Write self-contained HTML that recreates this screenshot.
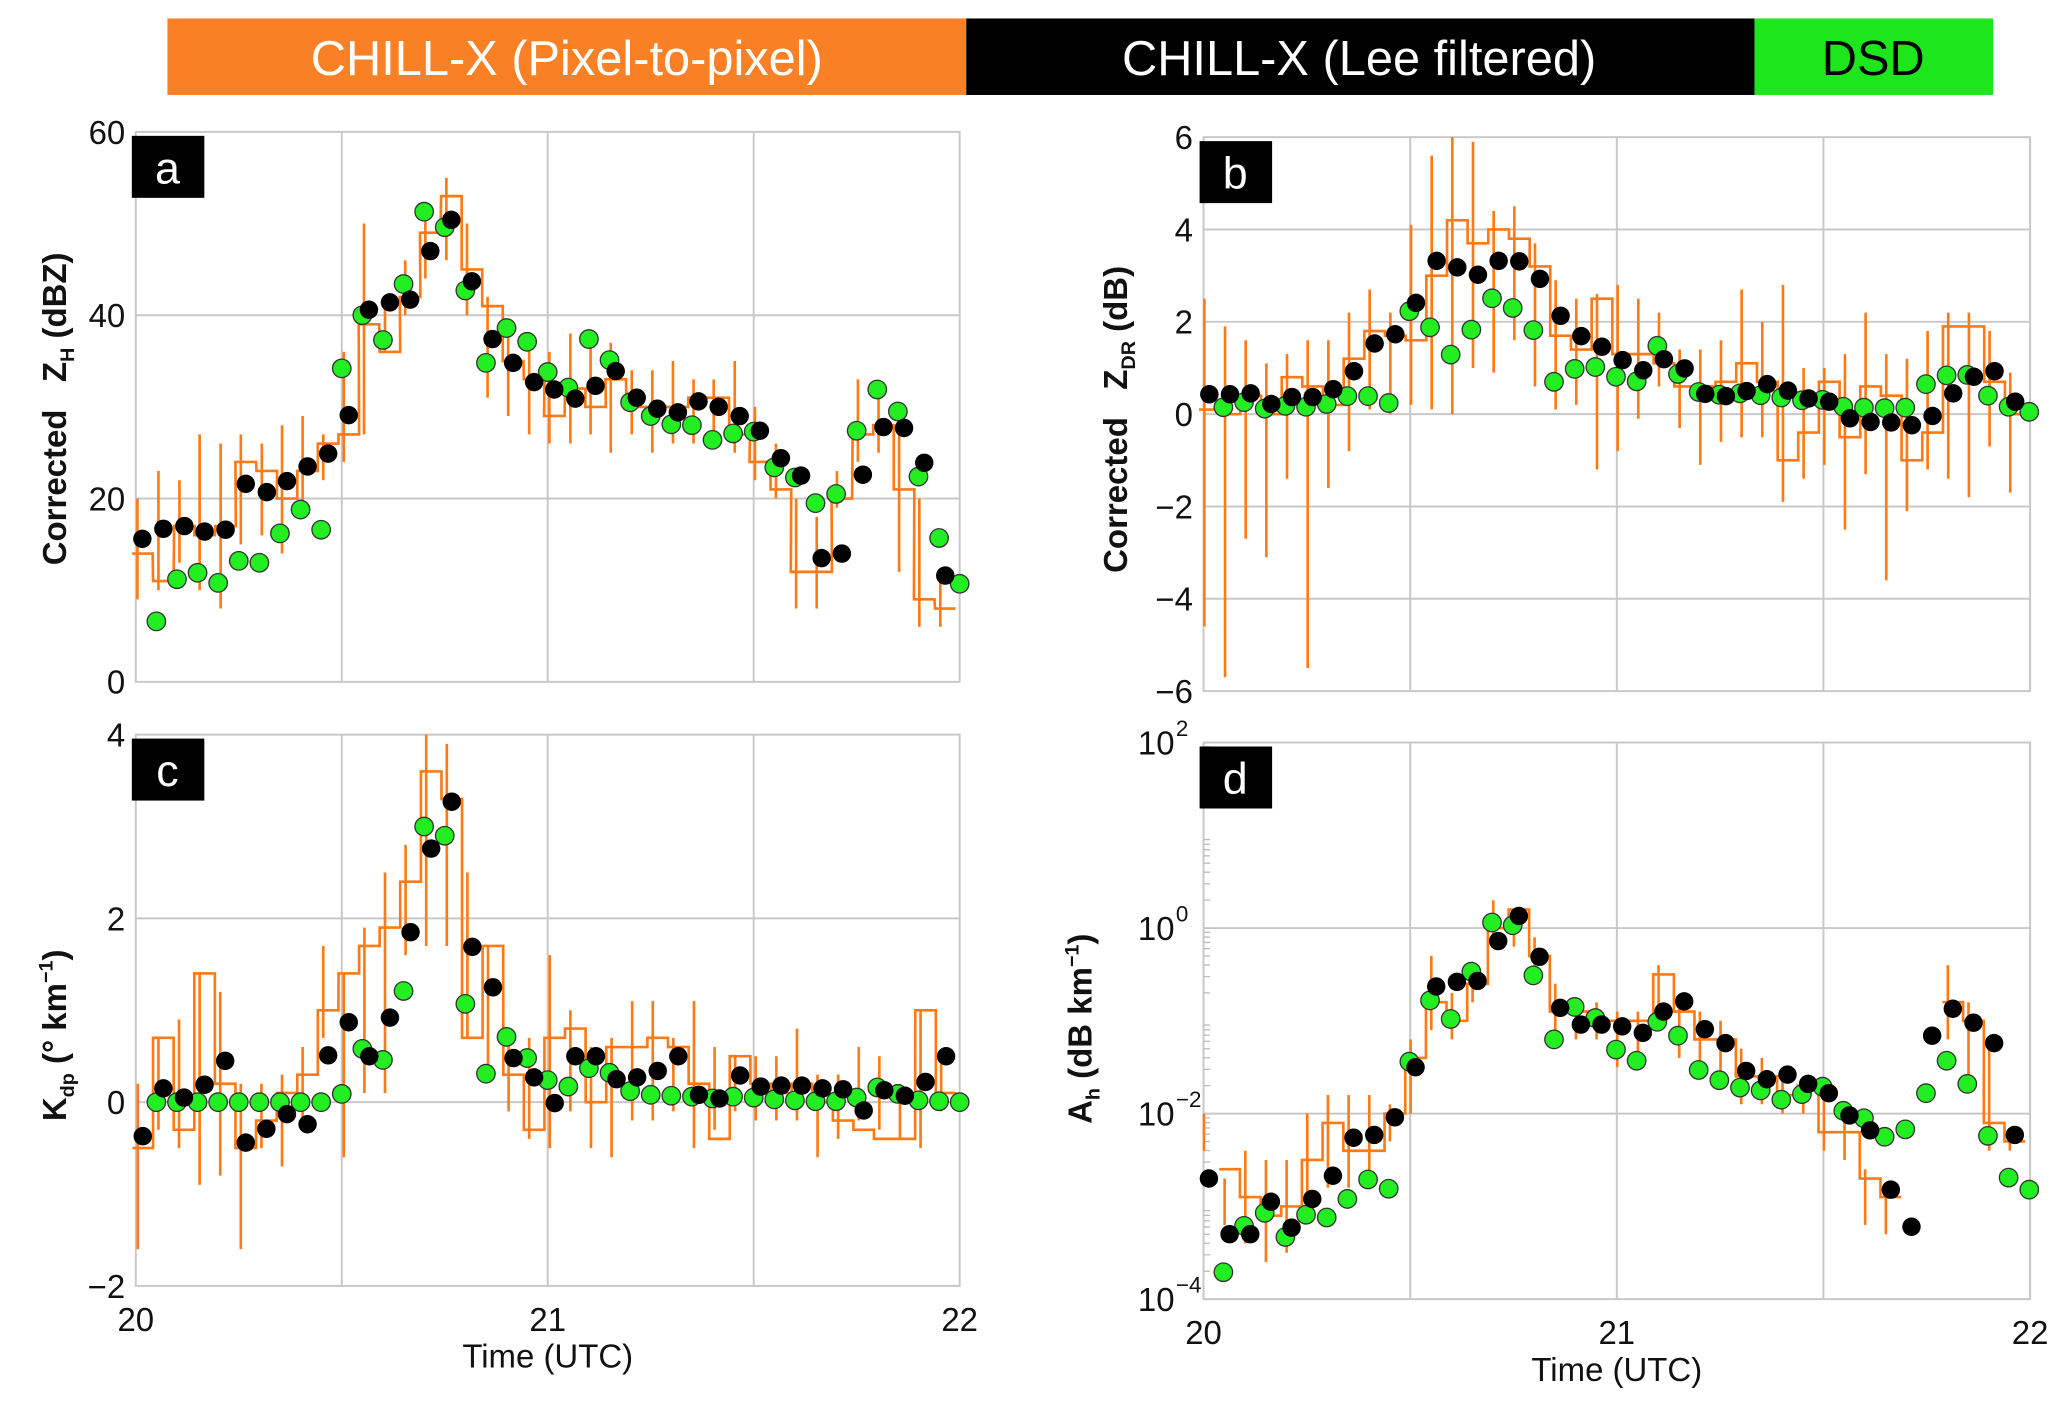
<!DOCTYPE html>
<html><head><meta charset="utf-8"><style>
html,body{margin:0;padding:0;background:#fff}
svg{display:block}
text{font-family:"Liberation Sans",sans-serif}
</style></head><body>
<svg id="chart" width="2067" height="1402" viewBox="0 0 1568 1063" preserveAspectRatio="none" xmlns="http://www.w3.org/2000/svg">
<g>
<rect x="127" y="14" width="606" height="58" fill="#f98024"/>
<rect x="733" y="14" width="598" height="58" fill="#000"/>
<rect x="1331" y="14" width="181" height="58" fill="#1de61d"/>
<text x="430" y="57" font-size="37" fill="#fff" text-anchor="middle">CHILL-X (Pixel-to-pixel)</text>
<text x="1031" y="57" font-size="37" fill="#fff" text-anchor="middle">CHILL-X (Lee filtered)</text>
<text x="1421" y="57" font-size="37" fill="#000" text-anchor="middle">DSD</text>
</g>
</svg>
<script>
// ---- Panel a data ----
const aBlackT=[20.016,20.067,20.118,20.167,20.218,20.267,20.318,20.367,20.417,20.467,20.517,20.566,20.617,20.666,20.715,20.766,20.816,20.866,20.916,20.967,21.016,21.067,21.116,21.165,21.216,21.266,21.316,21.366,21.415,21.466,21.515,21.566,21.615,21.665,21.714,21.765,21.815,21.865,21.914,21.965];
const aBlack=[15.6,16.7,17.0,16.4,16.6,21.6,20.7,21.9,23.5,24.9,29.1,40.6,41.4,41.7,47.0,50.4,43.7,37.4,34.8,32.7,31.9,30.9,32.3,33.9,31.0,29.8,29.4,30.6,30.0,29.0,27.4,24.4,22.5,13.5,14.0,22.6,27.8,27.7,23.9,11.6];
const aGreenT=[20.05,20.1,20.15,20.2,20.25,20.3,20.35,20.4,20.45,20.5,20.55,20.6,20.65,20.7,20.75,20.8,20.85,20.9,20.95,21.0,21.05,21.1,21.15,21.2,21.25,21.3,21.35,21.4,21.45,21.5,21.55,21.6,21.65,21.7,21.75,21.8,21.85,21.9,21.95,22.0];
const aGreen=[6.6,11.2,11.9,10.8,13.2,13.0,16.2,18.8,16.6,34.2,40.0,37.3,43.4,51.3,49.6,42.7,34.8,38.6,37.1,33.8,32.1,37.4,35.1,30.5,29.0,28.1,28.0,26.4,27.1,27.3,23.4,22.3,19.5,20.5,27.4,31.9,29.5,22.4,15.7,10.7];
const aOrange=[14,11,17,16,17,24,23,20,23,26,27,39,36,42,49,53,45,41,35,33,29,32,30,33,30,30,30,31,31,27,24,21,12,12,20,27,28,21,9,8];
const aLo=[9,10,13,10,8,15,16,14,18,22,24,27,36,40,44,46,40,31,29,27,26,26,27,25,27,25,26,26,26,25,22,20,8,8,19,24,25,12,6,6];
const aHi=[20,23,22,27,26,27,26,28,29,27,36,50,41,46,52,55,50,42,38,37,36,38,37,37,34,34,35,33,33,35,30,26,20,18,23,33,32,28,20,12];
const aTicks=[0,20,40,60];
// ---- Panel b data ----
const bBlackT=[20.014,20.064,20.114,20.164,20.214,20.264,20.314,20.364,20.414,20.464,20.514,20.564,20.614,20.664,20.714,20.764,20.814,20.864,20.914,20.964,21.014,21.064,21.114,21.164,21.214,21.264,21.314,21.364,21.414,21.464,21.514,21.564,21.614,21.664,21.714,21.764,21.814,21.864,21.914,21.964];
const bBlack=[.43,.43,.45,.22,.37,.37,.54,.93,1.53,1.73,2.41,3.32,3.18,3.02,3.32,3.31,2.93,2.13,1.69,1.46,1.17,.95,1.19,.99,.44,.39,.50,.65,.51,.34,.27,-.09,-.17,-.18,-.24,-.04,.45,.81,.93,.27];
const bGreenT=[20.048,20.098,20.148,20.198,20.248,20.298,20.348,20.398,20.448,20.498,20.548,20.598,20.648,20.698,20.748,20.798,20.848,20.898,20.948,20.998,21.048,21.098,21.148,21.198,21.248,21.298,21.348,21.398,21.448,21.498,21.548,21.598,21.648,21.698,21.748,21.798,21.848,21.898,21.948,21.998];
const bGreen=[.15,.26,.12,.18,.16,.22,.39,.39,.24,2.23,1.88,1.29,1.83,2.51,2.30,1.82,.70,.98,1.02,.81,.71,1.48,.87,.48,.42,.45,.41,.36,.30,.31,.16,.14,.13,.14,.65,.84,.85,.40,.16,.05];
const bOrange=[0.1,0,0.4,0,0.8,0.6,0.2,1.2,1.8,1.7,1.6,3.0,4.2,3.7,4.0,3.8,3.2,1.7,1.4,2.5,1.3,1.3,1.1,0.6,0.6,0.7,1.1,0.7,-1,-0.4,0.7,-0.5,0.6,0.4,-1,-0.4,1.9,1.9,0.7,0];
const bLo=[-4.6,-5.7,-2.7,-3.1,-1.4,-5.5,-1.6,-0.8,0.1,0,0.2,0.1,0,1,0.9,1.6,0.6,0.1,0.2,-1.2,-0.8,-0.1,0.6,-0.3,-1.1,-0.6,-0.5,-0.5,-1.9,-1.4,-1.1,-2.5,-1.3,-3.6,-2.1,-1.2,-1.4,-1.8,-0.7,-1.7];
const bHi=[2.5,1.9,1.6,1.1,1.3,1.6,1.6,2.2,2.7,2.2,4.1,5.6,6,5.9,4.4,4.5,3.7,2.9,2.5,2.6,2.8,2.5,2.2,1.4,1.4,1.6,2.7,2.0,2.8,1.0,1.0,1.3,2.2,1.3,1.2,1.8,2.2,2.2,1.8,0.9];
const bTicks=[-6,-4,-2,0,2,4,6];
// ---- Panel c data ----
const cBlackT=[20.017,20.067,20.117,20.167,20.217,20.267,20.317,20.367,20.417,20.467,20.517,20.567,20.617,20.667,20.717,20.767,20.817,20.867,20.917,20.967,21.017,21.067,21.117,21.167,21.217,21.267,21.317,21.367,21.417,21.467,21.517,21.567,21.617,21.667,21.717,21.767,21.817,21.867,21.917,21.967];
const cBlack=[-.37,.15,.05,.19,.45,-.44,-.29,-.13,-.24,.51,.87,.50,.92,1.85,2.76,3.27,1.69,1.25,.48,.27,-.01,.50,.50,.25,.27,.34,.50,.08,.04,.29,.17,.18,.18,.15,.14,-.09,.13,.07,.22,.50];
const cGreenT=[20.05,20.1,20.15,20.2,20.25,20.3,20.35,20.4,20.45,20.5,20.55,20.6,20.65,20.7,20.75,20.8,20.85,20.9,20.95,21.0,21.05,21.1,21.15,21.2,21.25,21.3,21.35,21.4,21.45,21.5,21.55,21.6,21.65,21.7,21.75,21.8,21.85,21.9,21.95,22.0];
const cGreen=[0,0,0,0,0,0,0,0,0,.09,.58,.46,1.21,3.0,2.9,1.07,.31,.71,.48,.24,.17,.37,.32,.12,.08,.07,.06,.04,.06,.05,.03,.02,.01,.01,.05,.16,.09,.02,.01,0];
const cOrange=[-0.5,0.7,-0.3,1.4,0.2,-0.5,-0.2,0.1,0.3,1.0,1.4,1.7,1.9,2.4,3.6,3.3,0.7,1.7,0.3,-0.3,0.7,0.8,0,0.6,0.6,0.7,0.6,0.2,-0.4,0.5,0.2,0.1,0.2,0,-0.2,-0.3,-0.4,-0.4,1,0.1];
const cLo=[-1.6,-0.3,-0.5,-0.9,-0.8,-1.6,-0.5,-0.7,-0.3,0.7,-0.6,0.1,0.1,1.6,1.7,1.7,0.7,0.3,-0.1,-0.4,-0.5,-0.1,-0.5,-0.6,-0.2,-0.2,-0.1,-0.5,-0.3,-0.1,-0.2,-0.2,-0.2,-0.6,-0.4,-0.2,-0.3,-0.4,-0.5,-0.1];
const cHi=[0.2,0.7,0.9,1.4,1.2,0.2,0.2,0.3,0.6,1.7,1.4,1.9,2.5,2.8,4,3.9,2.5,1.7,0.7,0.7,1.6,1,0.6,0.7,1.1,1.1,0.7,1.1,0.6,0.5,0.5,0.5,0.8,0.3,0.3,0.6,0.5,0.2,1,0.5];
const cTicks=[-2,0,2,4];
// ---- Panel d data (log10 of A_h) ----
const dBlackT=[20.013,20.063,20.113,20.163,20.213,20.263,20.313,20.363,20.413,20.463,20.513,20.563,20.613,20.663,20.713,20.763,20.813,20.863,20.913,20.963,21.013,21.063,21.113,21.163,21.213,21.263,21.313,21.363,21.413,21.463,21.513,21.563,21.613,21.663,21.713,21.763,21.813,21.863,21.913,21.963];
const dBlack=[-2.70,-3.30,-3.30,-2.95,-3.23,-2.92,-2.67,-2.26,-2.23,-2.04,-1.50,-0.63,-0.58,-0.57,-0.14,0.13,-0.31,-0.86,-1.04,-1.04,-1.06,-1.13,-0.90,-0.79,-1.09,-1.24,-1.54,-1.63,-1.58,-1.68,-1.78,-2.02,-2.18,-2.82,-3.22,-1.16,-0.87,-1.02,-1.24,-2.23];
const dGreenT=[20.048,20.098,20.148,20.198,20.248,20.298,20.348,20.398,20.448,20.498,20.548,20.598,20.648,20.698,20.748,20.798,20.848,20.898,20.948,20.998,21.048,21.098,21.148,21.198,21.248,21.298,21.348,21.398,21.448,21.498,21.548,21.598,21.648,21.698,21.748,21.798,21.848,21.898,21.948,21.998];
const dGreen=[-3.71,-3.21,-3.07,-3.33,-3.09,-3.12,-2.92,-2.71,-2.81,-1.44,-0.78,-0.98,-0.47,0.06,0.03,-0.51,-1.20,-0.85,-0.97,-1.31,-1.43,-1.01,-1.16,-1.53,-1.64,-1.72,-1.75,-1.85,-1.79,-1.71,-1.97,-2.05,-2.25,-2.17,-1.78,-1.43,-1.68,-2.24,-2.69,-2.82];
const dOrange=[null,-2.6,-2.9,-3.1,-3.0,-2.5,-2.1,-2.4,-2.4,-2.0,-1.4,-0.8,-1.0,-0.6,0.0,0.2,-0.3,-0.9,-0.9,-1.0,-1.0,-1.0,-0.5,-0.9,-1.2,-1.2,-1.6,-1.6,-1.8,-1.7,-2.2,-2.2,-2.7,-2.9,null,null,-0.8,-1.0,-2.1,-2.3];
const dLo=[-2.4,-3.2,-3.4,-3.6,-3.5,-3.0,-2.8,-2.8,-2.8,-2.3,-2.0,-1.1,-1.2,-0.8,-0.2,-0.2,-0.6,-1.2,-1.2,-1.2,-1.5,-1.5,-1.0,-1.4,-1.5,-1.6,-1.9,-1.9,-2.0,-2.0,-2.4,-2.5,-3.2,-3.3,null,null,-1.2,-1.6,-2.4,-2.4];
const dHi=[-2.0,-2.7,-2.4,-2.5,-2.5,-2.0,-1.8,-1.8,-1.8,-1.9,-1.2,-0.3,-0.7,-0.4,0.3,0.2,-0.1,-0.6,-0.8,-0.8,-0.9,-0.9,-0.4,-0.8,-0.9,-1.0,-1.3,-1.4,-1.5,-1.6,-1.8,-2.0,-2.6,-2.8,null,null,-0.4,-0.8,-1.3,-2.2];
const dTicks=[-4,-2,0,2];
const xTicks=[20,21,22];
const xGrid=[20.5,21,21.5];

const NS='http://www.w3.org/2000/svg';
const svg=document.getElementById('chart');
function mk(tag,attrs,parent){const e=document.createElementNS(NS,tag);for(const k in attrs)e.setAttribute(k,attrs[k]);(parent||svg).appendChild(e);return e;}

function panel(id,box,yMin,yMax,yTicks,gridY,bT,bV,gT,gV,oV,oLo,oHi,opts){
  const g=mk('g',{});
  
  
  const X=t=>box.x0+(t-20)/2*(box.x1-box.x0);
  const Y=v=>box.y1-(v-yMin)/(yMax-yMin)*(box.y1-box.y0);
  mk('rect',{x:box.x0,y:box.y0,width:box.x1-box.x0,height:box.y1-box.y0,fill:'#fff',stroke:'#c8c8c8','stroke-width':1.5},g);
  if(opts.log){
    for(let dec=yMin;dec<yMax;dec++){for(let m=2;m<10;m++){const yy=Y(dec+Math.log10(m));
      mk('line',{x1:box.x0,x2:box.x0+5,y1:yy,y2:yy,stroke:'#bbb','stroke-width':1},g);}}
  }
  gridY.forEach(v=>{const l=mk('line',{x1:box.x0,x2:box.x1,y1:Y(v),y2:Y(v),stroke:'#c8c8c8','stroke-width':1.5},g);
    
    });
  xGrid.forEach(v=>{const l=mk('line',{x1:X(v),x2:X(v),y1:box.y0,y2:box.y1,stroke:'#c8c8c8','stroke-width':1.5},g);
    
    });
  let d='';
  for(let i=0;i<oV.length;i++){
    if(oV[i]===null){continue;}
    const xa=X(bT[i]-0.025),xb=X(bT[i]+0.025),yy=Y(Math.max(yMin,Math.min(yMax,oV[i])));
    const prevNull=(i===0||oV[i-1]===null);
    d+=(prevNull?'M':'L')+xa.toFixed(1)+','+yy.toFixed(1)+'L'+xb.toFixed(1)+','+yy.toFixed(1);
  }
  const ol=mk('path',{d:d,fill:'none',stroke:'#ff7a14','stroke-width':2},g);
  
  
  for(let i=0;i<oLo.length;i++){
    if(oLo[i]===null)continue;
    const xx=X(bT[i]-0.012);
    const w=mk('line',{x1:xx,x2:xx,y1:Y(Math.max(yMin,oLo[i])),y2:Y(Math.min(yMax,oHi[i])),stroke:'#ff7a14','stroke-width':2},g);
    
    
  }
  for(let i=0;i<gV.length;i++){
    const c=mk('circle',{cx:X(gT[i]),cy:Y(gV[i]),r:7,fill:'#22ee22',stroke:'#333','stroke-width':1},g);
    
    
  }
  for(let i=0;i<bV.length;i++){
    const c=mk('circle',{cx:X(bT[i]),cy:Y(bV[i]),r:7,fill:'#000'},g);
    
    
  }
  yTicks.forEach(v=>{
    if(opts.log){
      const t=mk('text',{x:box.x0-22,y:Y(v)+9,'font-size':25,'text-anchor':'end',fill:'#111'},g);
      t.textContent='10';
      
      
      const s=mk('text',{x:box.x0-21,y:Y(v)-5,'font-size':17,fill:'#111'},g);
      s.textContent=(v<0?'\u2212':'')+Math.abs(v);
    } else {
      const t=mk('text',{x:box.x0-8,y:Y(v)+9,'font-size':25,'text-anchor':'end',fill:'#111'},g);
      t.textContent=(v<0?'\u2212':'')+Math.abs(v);
      
      
    }
  });
  if(opts.xlabels){
    xTicks.forEach(v=>{const t=mk('text',{x:X(v),y:box.y1+34,'font-size':25,'text-anchor':'middle',fill:'#111'},g);
      t.textContent=v;
      
      });
    const xt=mk('text',{x:(box.x0+box.x1)/2,y:box.y1+62,'font-size':25,'text-anchor':'middle',fill:'#111'},g);
    xt.textContent='Time (UTC)';
    
    
  }
  const lb=mk('rect',{x:box.x0-3,y:box.y0+3,width:55,height:47,fill:'#000'},g);
  
  
  const lt=mk('text',{x:box.x0+24,y:box.y0+39,'font-size':34,'text-anchor':'middle',fill:'#fff'},g);
  lt.textContent=id;
  
  
  const yt=mk('text',{transform:'translate('+opts.ytx+','+opts.yty+') rotate(-90)','font-size':25,'font-weight':'600','text-anchor':'middle',fill:'#111'},g);
  yt.innerHTML=opts.ytitle;
  
  
}

panel('a',{x0:103,x1:728,y0:100,y1:517},0,60,aTicks,[20,40],aBlackT,aBlack,aGreenT,aGreen,aOrange,aLo,aHi,
 {ytx:50,yty:310,ytitle:'Corrected&#160;&#160; Z<tspan font-size="15" dy="6">H</tspan><tspan dy="-6"> (dBZ)</tspan>'});
panel('b',{x0:913,x1:1540,y0:104,y1:524},-6,6,bTicks,[-4,-2,0,2,4],bBlackT,bBlack,bGreenT,bGreen,bOrange,bLo,bHi,
 {ytx:855,yty:318,ytitle:'Corrected&#160;&#160; Z<tspan font-size="15" dy="6">DR</tspan><tspan dy="-6"> (dB)</tspan>'});
panel('c',{x0:103,x1:728,y0:557,y1:975},-2,4,cTicks,[0,2],cBlackT,cBlack,cGreenT,cGreen,cOrange,cLo,cHi,
 {ytx:50,yty:785,xlabels:true,ytitle:'K<tspan font-size="15" dy="6">dp</tspan><tspan dy="-6"> (° km</tspan><tspan font-size="15" dy="-10">−1</tspan><tspan dy="10">)</tspan>'});
panel('d',{x0:913,x1:1540,y0:563,y1:985},-4,2,dTicks,[-2,0],dBlackT,dBlack,dGreenT,dGreen,dOrange,dLo,dHi,
 {log:true,ytx:828,yty:780,xlabels:true,ytitle:'A<tspan font-size="15" dy="6">h</tspan><tspan dy="-6"> (dB km</tspan><tspan font-size="15" dy="-10">−1</tspan><tspan dy="10">)</tspan>'});
</script>
</body></html>
